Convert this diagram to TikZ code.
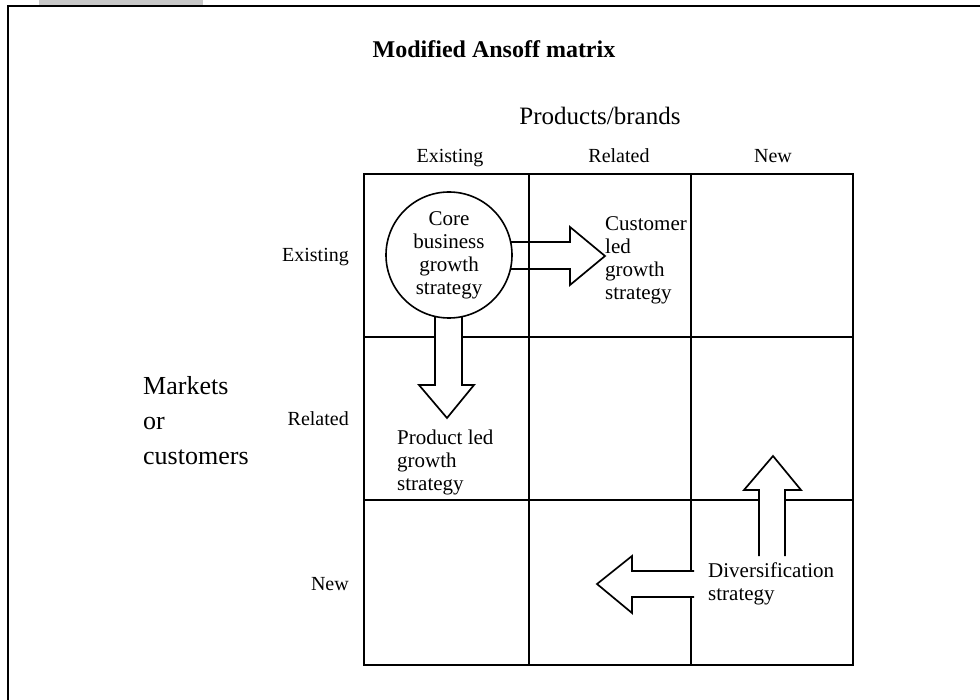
\documentclass[tikz,border=0pt]{standalone}
\usepackage{fontspec}
\setmainfont{Liberation Serif}
\definecolor{tabgray}{HTML}{C8C8C8}
\begin{document}
\begin{tikzpicture}[x=1pt,y=-1pt,
  celltext/.style={font=\fontsize{21}{23}\selectfont, inner sep=0pt, align=left},
  headtext/.style={font=\fontsize{20}{23}\selectfont, inner sep=0pt},
  gridline/.style={line width=1.2pt},
  blockarrow/.style={line width=1.7pt, line join=miter},
  frame/.style={line width=2pt}]
\useasboundingbox (0,0) rectangle (980,700);

% page tab and frame
\fill[tabgray] (39,0) rectangle (203,5);
\draw[frame] (8,702) -- (8,6) -- (982,6);

% title and axis captions
\node[font=\bfseries\fontsize{24}{28}\selectfont, inner sep=0pt] (title) at (494,49) {Modified Ansoff matrix};
\node[font=\fontsize{25}{28}\selectfont, inner sep=0pt, anchor=base] (prod) at (600,125) {Products/brands};
\node[font=\fontsize{26}{35}\selectfont, inner sep=0pt, align=left, anchor=north west] (mkt) at (143,376) {Markets\\or\\customers};

% column headings
\node[headtext, anchor=base] (cExist) at (450,163) {Existing};
\node[headtext, anchor=base] (cRel) at (619,163) {Related};
\node[headtext, anchor=base] (cNew) at (773,163) {New};

% row headings
\node[headtext, anchor=base east] (rExist) at (349,262) {Existing};
\node[headtext, anchor=base east] (rRel) at (349,426) {Related};
\node[headtext, anchor=base east] (rNew) at (349,590) {New};

% matrix
\draw[gridline] (529,174) -- (529,665);
\draw[gridline] (691,174) -- (691,665);
\draw[gridline] (364,337) -- (853,337);
\draw[gridline] (364,500) -- (853,500);
\draw[frame] (364,174) rectangle (853,665);

% block arrows
\draw[blockarrow] (449,242) -- (570,242) -- (570,227) -- (605,256) -- (570,285) -- (570,269) -- (449,269);
\draw[blockarrow, fill=white] (435,255) -- (435,385) -- (419,385) -- (447,418) -- (474,385) -- (462,385) -- (462,255);
\draw[blockarrow, fill=white] (759,556) -- (759,490) -- (744,490) -- (773,456) -- (801,490) -- (785,490) -- (785,556);
\draw[blockarrow, fill=white] (694,571) -- (632,571) -- (632,556) -- (597,584) -- (632,613) -- (632,597) -- (694,597);

% strategy labels
\node[circle, draw, line width=1.6pt, fill=white, minimum size=126pt, inner sep=0pt,
      align=center, font=\fontsize{21}{23}\selectfont] (core) at (449,255) {Core\\business\\growth\\strategy};
\node[celltext, anchor=north west] (cust) at (605,216) {Customer\\led\\growth\\strategy};
\node[celltext, anchor=north west] (prodled) at (397,430) {Product led\\growth\\strategy};
\node[celltext, anchor=north west] (div) at (708,563) {Diversification\\strategy};
\end{tikzpicture}
\end{document}
